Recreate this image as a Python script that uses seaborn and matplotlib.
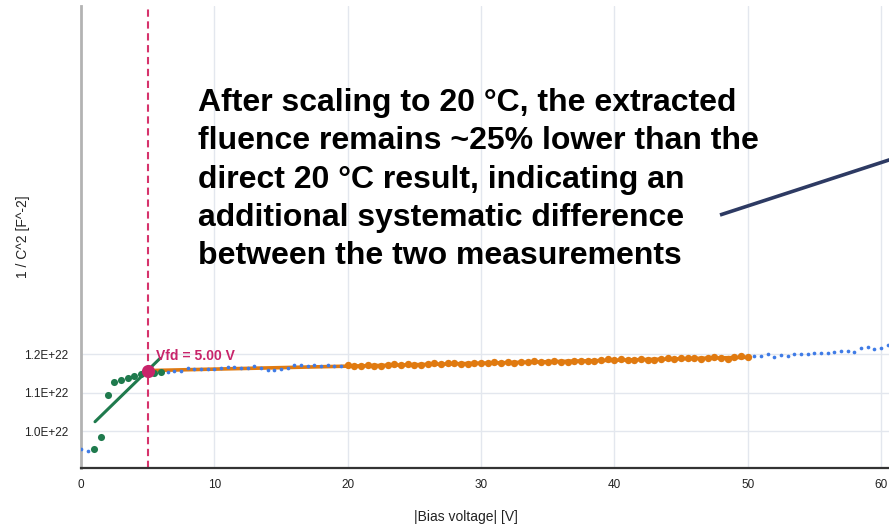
import matplotlib
matplotlib.use("Agg")
import matplotlib.pyplot as plt
from matplotlib.lines import Line2D
from matplotlib.ticker import FixedLocator, FuncFormatter
import numpy as np
import pandas as pd
import seaborn as sns

# ---------------- data (1/C^2 in units of 1E+22 F^-2) ----------------
bias_v = [0.0, 0.5, 1.0, 1.5, 2.0, 2.5, 3.0, 3.5, 4.0, 4.5,
          5.0, 5.5, 6.0, 6.5, 7.0, 7.5, 8.0, 8.5, 9.0, 9.5,
          10.0, 10.5, 11.0, 11.5, 12.0, 12.5, 13.0, 13.5, 14.0, 14.5,
          15.0, 15.5, 16.0, 16.5, 17.0, 17.5, 18.0, 18.5, 19.0, 19.5,
          20.0, 20.5, 21.0, 21.5, 22.0, 22.5, 23.0, 23.5, 24.0, 24.5,
          25.0, 25.5, 26.0, 26.5, 27.0, 27.5, 28.0, 28.5, 29.0, 29.5,
          30.0, 30.5, 31.0, 31.5, 32.0, 32.5, 33.0, 33.5, 34.0, 34.5,
          35.0, 35.5, 36.0, 36.5, 37.0, 37.5, 38.0, 38.5, 39.0, 39.5,
          40.0, 40.5, 41.0, 41.5, 42.0, 42.5, 43.0, 43.5, 44.0, 44.5,
          45.0, 45.5, 46.0, 46.5, 47.0, 47.5, 48.0, 48.5, 49.0, 49.5,
          50.0, 50.5, 51.0, 51.5, 52.0, 52.5, 53.0, 53.5, 54.0, 54.5,
          55.0, 55.5, 56.0, 56.5, 57.0, 57.5, 58.0, 58.5, 59.0, 59.5,
          60.0, 60.5]

inv_c2 = [0.9525, 0.9490, 0.9540, 0.9836, 1.0935, 1.1264, 1.1316, 1.1368, 1.1429, 1.1480,
          1.1558, 1.1498, 1.1525, 1.1540, 1.1550, 1.1570, 1.1628, 1.1610, 1.1602, 1.1610,
          1.1620, 1.1630, 1.1654, 1.1662, 1.1645, 1.1650, 1.1697, 1.1628, 1.1576, 1.1576,
          1.1610, 1.1628, 1.1714, 1.1714, 1.1697, 1.1714, 1.1697, 1.1714, 1.1697, 1.1700,
          1.1705, 1.1699, 1.1693, 1.1717, 1.1690, 1.1684, 1.1718, 1.1742, 1.1716, 1.1730,
          1.1723, 1.1707, 1.1741, 1.1755, 1.1739, 1.1763, 1.1776, 1.1740, 1.1734, 1.1758,
          1.1772, 1.1756, 1.1789, 1.1773, 1.1787, 1.1761, 1.1785, 1.1799, 1.1813, 1.1786,
          1.1800, 1.1814, 1.1798, 1.1792, 1.1816, 1.1829, 1.1823, 1.1807, 1.1851, 1.1865,
          1.1849, 1.1862, 1.1846, 1.1840, 1.1864, 1.1858, 1.1842, 1.1876, 1.1889, 1.1873,
          1.1887, 1.1901, 1.1895, 1.1879, 1.1892, 1.1916, 1.1910, 1.1884, 1.1928, 1.1942,
          1.1936, 1.1957, 1.1957, 1.1991, 1.1913, 1.1974, 1.1948, 1.1991, 1.1991, 1.1991,
          1.2017, 1.2017, 1.2017, 1.2061, 1.2078, 1.2078, 1.2061, 1.2147, 1.2173, 1.2130,
          1.2147, 1.2234]

low_range = (1.0, 6.0)      # depletion-region fit window (green)
high_range = (20.0, 50.0)   # plateau fit window (orange)

low_fit_v = [1.05, 5.93]
low_fit_y = [1.0242, 1.1888]
high_fit_v = [5.0, 50.0]
high_fit_y = [1.1570, 1.1916]

vfd_v = [5.0]
vfd_y = [1.1570]
vfd_label = "Vfd = 5.00 V"

y_ticks = [1.0, 1.1, 1.2]
x_ticks = [0, 10, 20, 30, 40, 50, 60]

note_text = ("After scaling to 20 \u00b0C, the extracted\n"
             "fluence remains ~25% lower than the\n"
             "direct 20 \u00b0C result, indicating an\n"
             "additional systematic difference\n"
             "between the two measurements")

# ---------------- styling ----------------
BLUE = "#3f7be6"
GREEN = "#1f7a4d"
ORANGE = "#e07a10"
MAGENTA = "#c8246a"
DASH = "#d6336c"
GRID = "#e3e7ee"

sns.set_style("white")
plt.rcParams["font.family"] = ["Liberation Sans", "DejaVu Sans"]

SCALE = 1e22
df = pd.DataFrame({"v": bias_v, "y": np.array(inv_c2) * SCALE})
df_low = df[(df.v >= low_range[0]) & (df.v <= low_range[1])]
df_high = df[(df.v >= high_range[0]) & (df.v <= high_range[1])]

fig = plt.figure(figsize=(8.89, 5.27), dpi=100)
ax = fig.add_axes([81 / 889, 59 / 527, 808 / 889, 462 / 527])

ax.set_xlim(0, 60.6)
ax.set_ylim(0.904 * SCALE, 2.104 * SCALE)

# grid
for xv in x_ticks[1:]:
    ax.axvline(xv, color=GRID, lw=1.0, zorder=0)
for yv in y_ticks:
    ax.axhline(yv * SCALE, color=GRID, lw=1.0, zorder=0)

# Vfd dashed line
ax.axvline(vfd_v[0], color=DASH, lw=1.5, linestyle=(0, (3.5, 2.2)), zorder=2)

# fit lines
sns.lineplot(x=high_fit_v, y=np.array(high_fit_y) * SCALE, color=ORANGE, lw=2.6,
             ax=ax, zorder=3, legend=False)
sns.lineplot(x=low_fit_v, y=np.array(low_fit_y) * SCALE, color=GREEN, lw=2.2,
             ax=ax, zorder=3, legend=False)

# measured points
sns.scatterplot(data=df, x="v", y="y", color=BLUE, s=7, linewidth=0, ax=ax, zorder=4)
sns.scatterplot(data=df_high, x="v", y="y", color=ORANGE, s=28, linewidth=0, ax=ax, zorder=5)
sns.scatterplot(data=df_low, x="v", y="y", color=GREEN, s=26, linewidth=0, ax=ax, zorder=5)

# Vfd marker
sns.scatterplot(x=vfd_v, y=np.array(vfd_y) * SCALE, color=MAGENTA, s=90, linewidth=0,
                ax=ax, zorder=6)
ax.annotate(vfd_label, xy=(vfd_v[0], vfd_y[0] * SCALE), xytext=(6.0, 10.5),
            textcoords="offset points", color=MAGENTA, fontsize=10, fontweight="bold",
            ha="left", va="center", zorder=7)

# axes
ax.xaxis.set_major_locator(FixedLocator(x_ticks))
ax.yaxis.set_major_locator(FixedLocator([t * SCALE for t in y_ticks]))
ax.yaxis.set_major_formatter(FuncFormatter(lambda v, p: f"{v / SCALE:.1f}E+22"))
ax.tick_params(axis="both", length=0, labelsize=8.5, colors="#222222")
ax.tick_params(axis="y", pad=9)
ax.tick_params(axis="x", pad=8)

for s in ["top", "right"]:
    ax.spines[s].set_visible(False)
ax.spines["left"].set_color("#b3b3b3")
ax.spines["left"].set_linewidth(2.0)
ax.spines["bottom"].set_color("#333333")
ax.spines["bottom"].set_linewidth(1.6)
ax.spines["left"].set_zorder(1)

ax.set_xlabel("|Bias voltage| [V]", fontsize=10, color="#222222")
ax.set_ylabel("1 / C^2 [F^-2]", fontsize=10, color="#222222")
ax.xaxis.set_label_coords((466 - 81) / 808, -49 / 462)
ax.yaxis.set_label_coords(-(81 - 23) / 808, 0.5)
ax.xaxis.label.set_va("center")
ax.yaxis.label.set_va("center")

# annotation text and pointer line
fig.text(198 / 889, 1 - 88 / 527, note_text, fontsize=23, fontweight="bold",
         color="#000000", ha="left", va="top", linespacing=1.36)
fig.add_artist(Line2D([720 / 889, 900 / 889], [1 - 215 / 527, 1 - 156.4 / 527],
                      transform=fig.transFigure, color="#2d3a63", lw=2.6,
                      solid_capstyle="butt"))

fig.savefig("out.png", dpi=100)
